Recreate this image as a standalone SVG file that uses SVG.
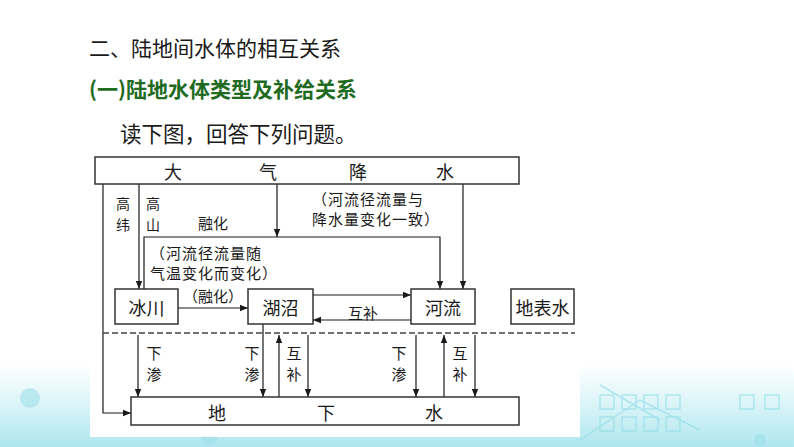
<svg xmlns="http://www.w3.org/2000/svg" width="794" height="447" viewBox="0 0 794 447">
<defs>
<marker id="ah" viewBox="0 0 10 10" refX="10" refY="5" markerWidth="8" markerHeight="8" markerUnits="userSpaceOnUse" orient="auto"><path d="M0,1 L10,5 L0,9 Z" fill="#1a1a1a"/></marker>
<linearGradient id="bg" x1="0" y1="0" x2="0" y2="1"><stop offset="0" stop-color="#ffffff"/><stop offset="0.5" stop-color="#d8f4f8"/><stop offset="1" stop-color="#aee6ef"/></linearGradient>
<style>
.t{font-family:"Noto Sans CJK SC","Liberation Sans",sans-serif;fill:#1a1a1a}
.box{fill:#fff;stroke:#333;stroke-width:1.5}
.arr{fill:none;stroke:#1a1a1a;stroke-width:1.2;marker-end:url(#ah)}
.n{font-size:18px;text-anchor:middle;dominant-baseline:central}
.s{font-size:15px;text-anchor:middle;dominant-baseline:central}
.v{font-size:14px;text-anchor:middle;dominant-baseline:central}
.p{font-size:15px;letter-spacing:1px;dominant-baseline:central}
.deco{fill:none;stroke:#8fdbe6;stroke-width:1.5;opacity:0.6}
</style>
</defs>
<rect width="794" height="447" fill="#fff"/>
<rect x="0" y="365" width="794" height="82" fill="url(#bg)"/>
<g class="deco">
<circle cx="30" cy="398" r="10" fill="#9fe0ea" stroke="none"/>
<circle cx="210" cy="437" r="8" fill="#9fe0ea" stroke="none"/>
<circle cx="760" cy="440" r="6" fill="#9fe0ea" stroke="none"/>
<path d="M580,440 L640,400 L700,430"/>
<path d="M600,385 L660,420"/>
<rect x="600" y="395" width="14" height="14"/><rect x="622" y="395" width="14" height="14"/><rect x="644" y="395" width="14" height="14"/><rect x="666" y="395" width="14" height="14"/>
<rect x="600" y="417" width="14" height="14"/><rect x="622" y="417" width="14" height="14"/><rect x="644" y="417" width="14" height="14"/><rect x="666" y="417" width="14" height="14"/>
<rect x="740" y="395" width="14" height="14"/><rect x="765" y="395" width="14" height="14"/>
</g>
<rect x="90" y="150" width="490" height="287" fill="#fff"/>

<text class="t" x="89" y="47" font-size="21" dominant-baseline="central" fill="#222">二、陆地间水体的相互关系</text>
<text class="t" x="89" y="88" font-size="21" font-weight="bold" dominant-baseline="central" style="fill:#1f6b1f">(一)陆地水体类型及补给关系</text>
<text class="t" x="120" y="132" font-size="21.5" dominant-baseline="central">读下图，回答下列问题。</text>

<g id="connectors">
<path class="arr" d="M103,184 V413 H131"/>
<path class="arr" d="M139,184 V289"/>
<path class="arr" d="M277,184 V237"/>
<path class="arr" d="M144,289 V237 H440 V289"/>
<path class="arr" d="M463,184 V289"/>
<path class="arr" d="M178,308 H248"/>
<path class="arr" d="M313,295 H411"/>
<path class="arr" d="M411,320 H313"/>
<line x1="103" y1="333" x2="575" y2="333" stroke="#444" stroke-width="1.5" stroke-dasharray="6 3"/>
<path class="arr" d="M138,335 V397"/>
<path class="arr" d="M263,324 V397"/>
<path class="arr" d="M279,397 V335"/>
<path class="arr" d="M308,335 V397"/>
<path class="arr" d="M416,335 V397"/>
<path class="arr" d="M444,397 V335"/>
<path class="arr" d="M475,335 V397"/>
<text class="t v"><tspan x="123" y="203">高</tspan><tspan x="123" y="224">纬</tspan></text>
<text class="t v"><tspan x="153" y="203">高</tspan><tspan x="153" y="224">山</tspan></text>
<text class="t s" x="213" y="222">融化</text>
<text class="t p" x="312" y="198">（河流径流量与</text>
<text class="t p" x="312" y="218">降水量变化一致）</text>
<text class="t p" x="150" y="252">（河流径流量随</text>
<text class="t p" x="150" y="272">气温变化而变化）</text>
<text class="t s" x="213" y="295">（融化）</text>
<text class="t s" x="363" y="312">互补</text>
<text class="t s"><tspan x="154" y="352">下</tspan><tspan x="154" y="373">渗</tspan></text>
<text class="t s"><tspan x="252" y="352">下</tspan><tspan x="252" y="373">渗</tspan></text>
<text class="t s"><tspan x="294" y="352">互</tspan><tspan x="294" y="373">补</tspan></text>
<text class="t s"><tspan x="399" y="352">下</tspan><tspan x="399" y="373">渗</tspan></text>
<text class="t s"><tspan x="460" y="352">互</tspan><tspan x="460" y="373">补</tspan></text>
</g>

<g id="precipitation">
<rect class="box" x="95" y="157" width="424" height="27"/>
<text class="t n" x="173" y="171">大</text><text class="t n" x="268" y="171">气</text><text class="t n" x="358" y="171">降</text><text class="t n" x="445" y="171">水</text>
</g>
<g id="glacier">
<rect class="box" x="115" y="289" width="63" height="35"/>
<text class="t n" x="146.5" y="307">冰川</text>
</g>
<g id="lake">
<rect class="box" x="248" y="289" width="65" height="35"/>
<text class="t n" x="280.5" y="307">湖沼</text>
</g>
<g id="river">
<rect class="box" x="411" y="289" width="64" height="35"/>
<text class="t n" x="443" y="307">河流</text>
</g>
<g id="surface-water">
<rect class="box" x="511" y="289" width="63" height="35"/>
<text class="t n" x="542.5" y="307">地表水</text>
</g>
<g id="groundwater">
<rect class="box" x="131" y="397" width="388" height="28"/>
<text class="t n" x="217" y="412">地</text><text class="t n" x="326" y="412">下</text><text class="t n" x="434" y="412">水</text>
</g>
</svg>
